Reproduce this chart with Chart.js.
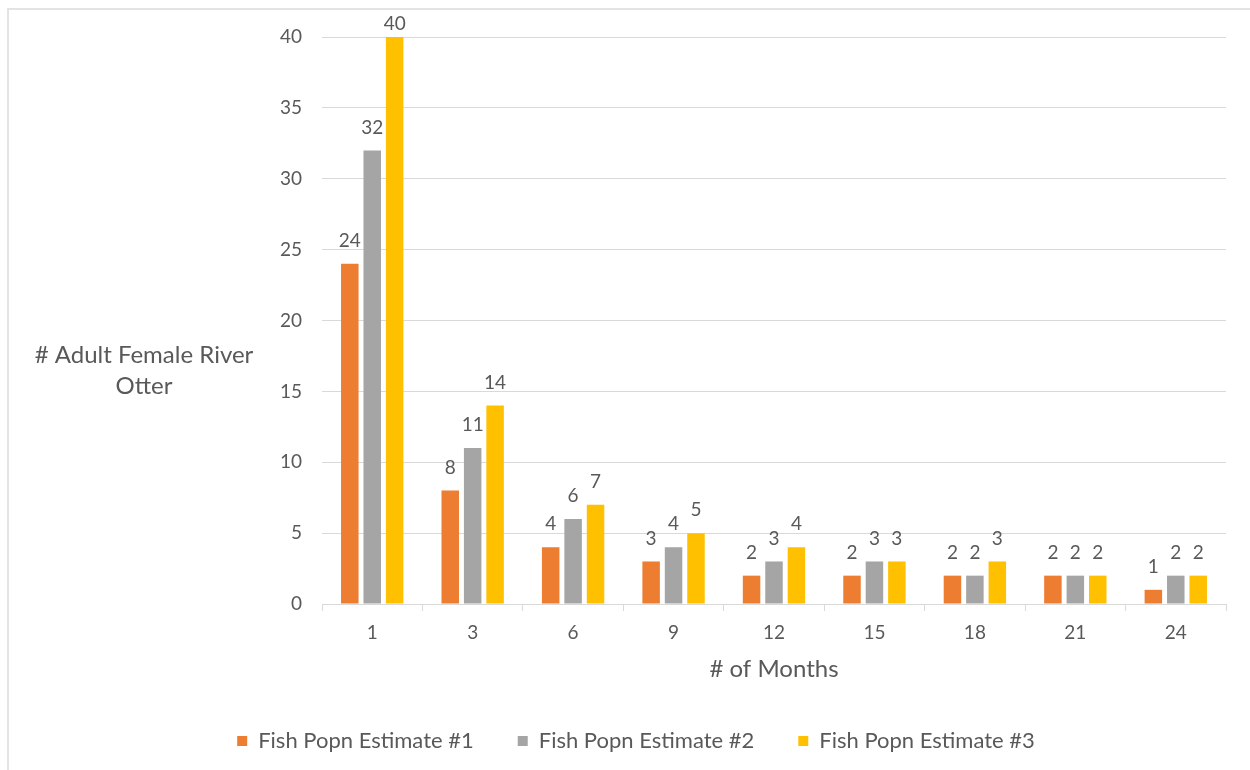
<!DOCTYPE html>
<html>
<head>
<meta charset="utf-8">
<script src="https://cdn.jsdelivr.net/npm/chart.js@4"></script>
<style>
  html, body { margin: 0; padding: 0; background: #fff; }
  #wrap { position: relative; width: 1250px; height: 770px; overflow: hidden; }
  #frame { position: absolute; left: 7px; top: 8px; width: 1250px; height: 770px;
           border-top: 2px solid #e3e3e3; border-left: 2px solid #e3e3e3; box-sizing: border-box; }
  canvas { position: absolute; left: 0; top: 0; }
</style>
</head>
<body>
<div id="wrap">
  <div id="frame"></div>
  <canvas id="c" width="1250" height="770"></canvas>
</div>
<script>
// Months after start
const months = ['1', '3', '6', '9', '12', '15', '18', '21', '24'];
// Adult female river otter counts under each fish population estimate
const estimate1 = [24, 8, 4, 3, 2, 2, 2, 2, 1];
const estimate2 = [32, 11, 6, 4, 3, 3, 2, 2, 2];
const estimate3 = [40, 14, 7, 5, 4, 3, 3, 2, 2];
const seriesNames = ['Fish Popn Estimate #1', 'Fish Popn Estimate #2', 'Fish Popn Estimate #3'];
const yTitleLines = ['# Adult Female River', 'Otter'];
const xTitle = '# of Months';

const FONT = 'Lato, "Open Sans", sans-serif';
const TEXT = '#595959';
const PLOT_LEFT = 322;
const PLOT_BOTTOM = 604;
const PAD_LEFT = 46;
const PAD_BOTTOM = 8;

// Value labels above every bar, kept inside the top of the canvas
const valueLabels = {
  id: 'valueLabels',
  afterDatasetsDraw(chart) {
    const ctx = chart.ctx;
    ctx.save();
    ctx.font = '19px ' + FONT;
    ctx.fillStyle = TEXT;
    ctx.textAlign = 'center';
    ctx.textBaseline = 'middle';
    chart.data.datasets.forEach((ds, i) => {
      chart.getDatasetMeta(i).data.forEach((bar, j) => {
        const y = Math.max(bar.y - 23, 24);
        ctx.fillText(String(ds.data[j]), bar.x, y);
      });
    });
    ctx.restore();
  }
};

// Horizontal value-axis title to the left of the tick labels
const sideTitle = {
  id: 'sideTitle',
  afterDraw(chart) {
    const ctx = chart.ctx;
    ctx.save();
    ctx.font = '24px ' + FONT;
    ctx.fillStyle = TEXT;
    ctx.textAlign = 'center';
    ctx.textBaseline = 'middle';
    yTitleLines.forEach((line, k) => ctx.fillText(line, 144, 355 + k * 31));
    ctx.restore();
  }
};

new Chart(document.getElementById('c'), {
  type: 'bar',
  data: {
    labels: months,
    datasets: [
      { label: seriesNames[0], data: estimate1, backgroundColor: '#ED7D31' },
      { label: seriesNames[1], data: estimate2, backgroundColor: '#A5A5A5' },
      { label: seriesNames[2], data: estimate3, backgroundColor: '#FFC000' }
    ]
  },
  options: {
    responsive: false,
    animation: false,
    devicePixelRatio: 1,
    categoryPercentage: 0.67,
    barPercentage: 0.78,
    layout: { padding: { left: PAD_LEFT, top: 37, right: 24, bottom: PAD_BOTTOM } },
    scales: {
      x: {
        grid: { drawOnChartArea: false, drawTicks: true, tickLength: 7, color: '#d9d9d9', offset: true },
        border: { color: '#d9d9d9', width: 1 },
        ticks: { color: TEXT, font: { family: FONT, size: 19 }, padding: 10, maxRotation: 0 },
        title: { display: true, text: xTitle, color: TEXT, font: { family: FONT, size: 24 }, padding: { top: 10, bottom: 2 } },
        afterFit(scale) {
          const lg = scale.chart.legend;
          scale.height = 770 - PAD_BOTTOM - (lg ? lg.height : 0) - PLOT_BOTTOM;
        }
      },
      y: {
        min: 0, max: 40,
        ticks: { stepSize: 5, color: TEXT, font: { family: FONT, size: 19 }, padding: 20 },
        grid: { color: '#d9d9d9', drawTicks: false },
        border: { display: false },
        afterFit(scale) { scale.width = PLOT_LEFT - PAD_LEFT; }
      }
    },
    plugins: {
      legend: {
        position: 'bottom',
        labels: { boxWidth: 10, boxHeight: 10, color: TEXT, font: { family: FONT, size: 22 }, padding: 44 }
      },
      tooltip: { enabled: false }
    }
  },
  plugins: [valueLabels, sideTitle]
});
</script>
</body>
</html>
